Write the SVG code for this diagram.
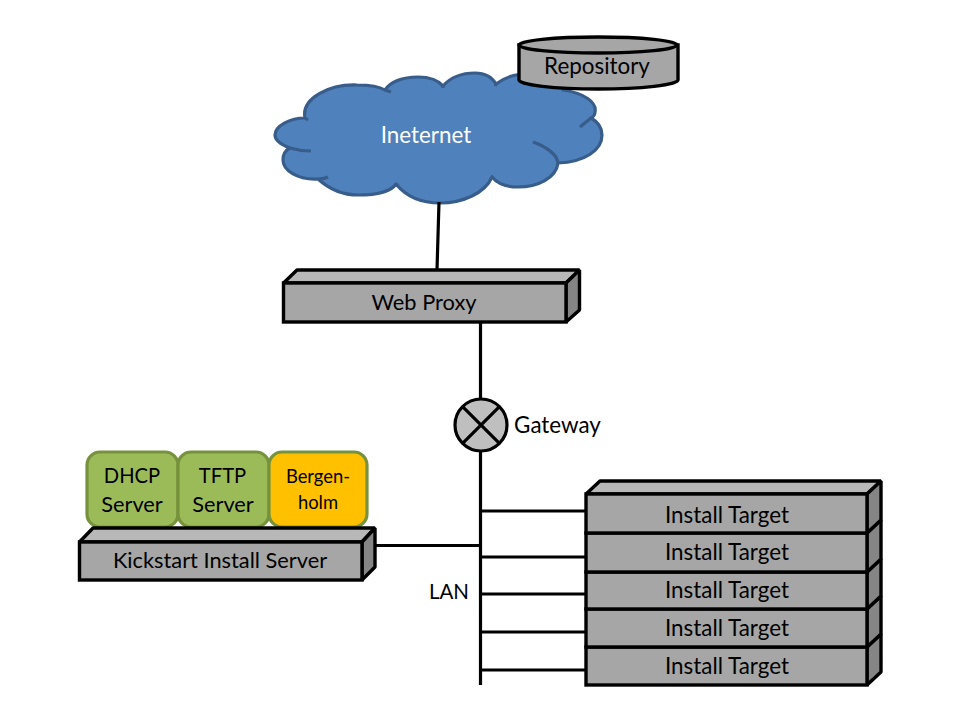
<svg xmlns="http://www.w3.org/2000/svg" width="960" height="720" viewBox="0 0 960 720">
<style>
text{font-family:"Lato","Open Sans",sans-serif;font-size:22.4px;fill:#000;text-anchor:middle}
.mid{font-size:21.800px}
.sm{font-size:20.200px}
.front{fill:#a6a6a6;stroke:#000;stroke-width:3.4;stroke-linejoin:miter}
.top{fill:#b8b8b8;stroke:#000;stroke-width:3.4;stroke-linejoin:bevel}
.side{fill:#858585;stroke:#000;stroke-width:3.4;stroke-linejoin:bevel}
.link{stroke:#000;stroke-width:3.2;fill:none}
.green{fill:#9bbb59;stroke:#76923c;stroke-width:3.2}
.orange{fill:#ffc000;stroke:#76923c;stroke-width:3.2}
</style>
<rect width="960" height="720" fill="#fff"/>
<g id="cloud">
<path d="M305 118C301 98 330 84 357 85C369 85 380 87 385 90C390 82 402 77 418 77C430 77 438 80 443 86C450 78 460 73 475 73C485 73 492 77 496 84C505 77 520 72 540 74C555 76 562 82 563 90C585 93 597 103 595 112C595 115 593 117 591 118C598 122 602 128 602 135C602 150 585 162 558 163C556 178 538 187 518 187C506 187 497 183 492 177C485 193 463 203 440 203C420 203 405 195 396 184C392 190 380 195 358 195C340 195 328 188 318 179C297 180 283 170 283 160C283 154 286 150 290 148C282 145 275 141 275 135C275 126 290 118 305 118Z" fill="#4f81bd" stroke="#385d8a" stroke-width="3.2" stroke-linejoin="round"/>
<path d="M305 118L308 120M385 90L391 92M443 86L443 88M496 84L495 86M591 118L580 127M533 142C545 146 557 154 558 163M492 177L493 176M396 184L398 186M318 179Q324 179 328 177M290 148Q300 151 311 151" fill="none" stroke="#385d8a" stroke-width="3.2"/>
<text x="426" y="143" style="fill:#fff">Ineternet</text>
</g>
<g id="repository">
<path d="M519 45V80C519 85 555 89 598 89S678 85 678 80V45Z" class="front"/>
<ellipse cx="598" cy="45" rx="79" ry="8" class="top" style="fill:#a6a6a6"/>
<text x="597" y="74">Repository</text>
</g>
<g id="connectors">
<path class="link" d="M439 202L437 270M480.500 322V398M480.500 452V685M480 511H586M480 557H586M480 594H586M480 632H586M480 670H586M362 545.500H480"/>
</g>
<g id="web-proxy">
<path class="top" d="M283.500 283L297 270H579.500L566 283Z"/>
<path class="side" d="M566 283L579.500 270V310L566 322Z"/>
<rect class="front" x="283.500" y="283" width="282.500" height="39"/>
<text class="mid" x="424" y="310">Web Proxy</text>
</g>
<g id="gateway">
<circle cx="481" cy="425" r="26" fill="#bfbfbf" stroke="#000" stroke-width="3.2"/>
<path class="link" d="M462.600 406.600L499.400 443.400M499.400 406.600L462.600 443.400"/>
<text x="557.500" y="433">Gateway</text>
</g>
<g id="dhcp-server">
<rect class="green" x="87" y="452" width="91" height="75" rx="13"/>
<text class="sm" x="132" y="483">DHCP</text>
<text class="mid" x="132" y="512">Server</text>
</g>
<g id="tftp-server">
<rect class="green" x="178" y="452" width="91" height="75" rx="13"/>
<text class="sm" x="222.500" y="483">TFTP</text>
<text class="mid" x="223" y="512">Server</text>
</g>
<g id="bergenholm">
<rect class="orange" x="269" y="452" width="98" height="75" rx="13"/>
<text x="318" y="483" style="font-size:18.400px">Bergen-</text>
<text x="318" y="509" style="font-size:18.400px">holm</text>
</g>
<g id="kickstart-install-server">
<path class="top" d="M79.500 542L93 528H375L362 542Z"/>
<path class="side" d="M362 542L375 528V567L362 580Z"/>
<rect class="front" x="79.500" y="542" width="282.500" height="38"/>
<text class="mid" x="220" y="568">Kickstart Install Server</text>
</g>
<g id="install-target-5">
<path class="top" d="M586 647L600 634H881L867 647Z"/>
<path class="side" d="M867 647L881 634V672L867 685Z"/>
<rect class="front" x="586" y="647" width="281" height="38"/>
<text x="727" y="674">Install Target</text>
</g>
<g id="install-target-4">
<path class="top" d="M586 609L600 596H881L867 609Z"/>
<path class="side" d="M867 609L881 596V634L867 647Z"/>
<rect class="front" x="586" y="609" width="281" height="38"/>
<text x="727" y="636">Install Target</text>
</g>
<g id="install-target-3">
<path class="top" d="M586 572L600 559H881L867 572Z"/>
<path class="side" d="M867 572L881 559V596L867 609Z"/>
<rect class="front" x="586" y="572" width="281" height="37"/>
<text x="727" y="598">Install Target</text>
</g>
<g id="install-target-2">
<path class="top" d="M586 533L600 520H881L867 533Z"/>
<path class="side" d="M867 533L881 520V559L867 572Z"/>
<rect class="front" x="586" y="533" width="281" height="39"/>
<text x="727" y="560">Install Target</text>
</g>
<g id="install-target-1">
<path class="top" d="M586 494L600 481H881L867 494Z"/>
<path class="side" d="M867 494L881 481V520L867 533Z"/>
<rect class="front" x="586" y="494" width="281" height="39"/>
<text x="727" y="523">Install Target</text>
</g>
<text x="449" y="599" style="font-size:20.500px">LAN</text>
</svg>
